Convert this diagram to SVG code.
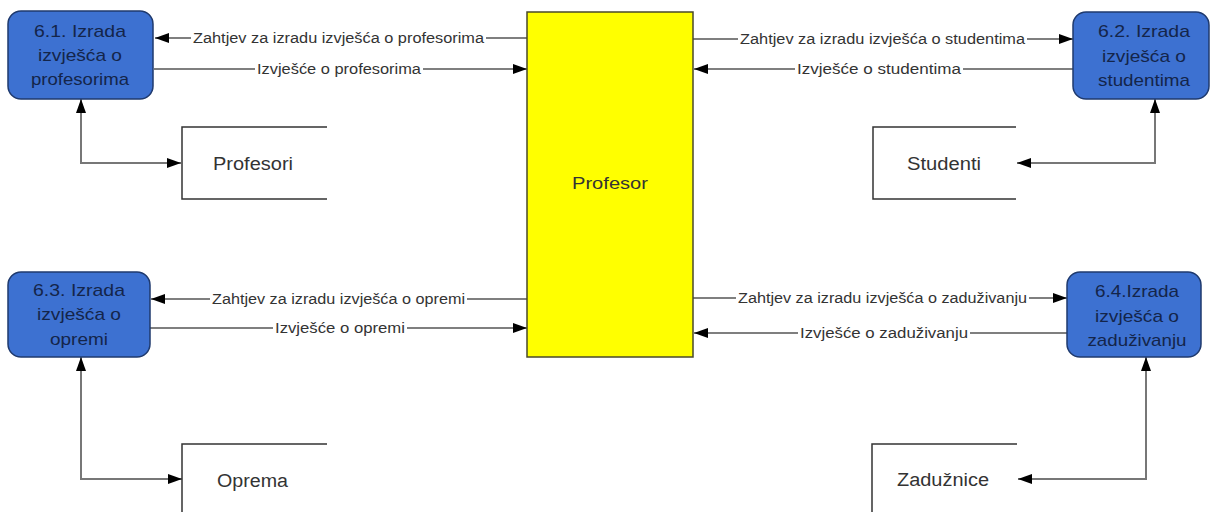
<svg xmlns="http://www.w3.org/2000/svg" width="1211" height="512" viewBox="0 0 1211 512">
<style>
.proc{fill:#3D71D1;stroke:#1F3A6E;stroke-width:1.5}
.ptxt{font-family:"Liberation Sans",Arial,sans-serif;font-size:17px;fill:#14254A;text-anchor:middle}
.ent{fill:#FFFF00;stroke:#4a4a2a;stroke-width:1.5}
.etxt{font-family:"Liberation Sans",Arial,sans-serif;font-size:17px;fill:#333}
.store{fill:none;stroke:#333;stroke-width:1.5}
.stxt{font-family:"Liberation Sans",Arial,sans-serif;font-size:18px;fill:#333}
.flow{fill:none;stroke:#555;stroke-width:1.4;marker-end:url(#ah)}
.flow2{fill:none;stroke:#777;stroke-width:2;marker-end:url(#ah);marker-start:url(#ahs)}
.lbg{fill:#fff}
.ltxt{font-family:"Liberation Sans",Arial,sans-serif;font-size:14px;fill:#333}
</style>
<defs>
<marker id="ah" viewBox="0 0 14 10" refX="14" refY="5" markerWidth="14" markerHeight="10" markerUnits="userSpaceOnUse" orient="auto"><path d="M0,0 L14,5 L0,10 z" fill="#000"/></marker>
<marker id="ahs" viewBox="0 0 14 10" refX="0" refY="5" markerWidth="14" markerHeight="10" markerUnits="userSpaceOnUse" orient="auto"><path d="M14,0 L0,5 L14,10 z" fill="#000"/></marker>
</defs>
<rect width="1211" height="512" fill="#fff"/>

<g id="connectors">
<path class="flow" d="M527,38 H155"/>
<rect class="lbg" x="191" y="30" width="295" height="16"/>
<text class="ltxt" x="193" y="43" textLength="291" lengthAdjust="spacingAndGlyphs">Zahtjev za izradu izvješća o profesorima</text>
<path class="flow" d="M154,69 H527"/>
<rect class="lbg" x="255" y="61" width="168" height="16"/>
<text class="ltxt" x="257" y="74" textLength="164" lengthAdjust="spacingAndGlyphs">Izvješće o profesorima</text>

<path class="flow" d="M693,39 H1073"/>
<rect class="lbg" x="738" y="31" width="289" height="16"/>
<text class="ltxt" x="740" y="44" textLength="285" lengthAdjust="spacingAndGlyphs">Zahtjev za izradu izvješća o studentima</text>
<path class="flow" d="M1073,69 H694"/>
<rect class="lbg" x="795" y="61" width="168" height="16"/>
<text class="ltxt" x="797" y="74" textLength="164" lengthAdjust="spacingAndGlyphs">Izvješće o studentima</text>

<path class="flow" d="M527,299 H151"/>
<rect class="lbg" x="210" y="291" width="257" height="16"/>
<text class="ltxt" x="212" y="304" textLength="253" lengthAdjust="spacingAndGlyphs">Zahtjev za izradu izvješća o opremi</text>
<path class="flow" d="M150,328 H527"/>
<rect class="lbg" x="273" y="320" width="134" height="16"/>
<text class="ltxt" x="275" y="333" textLength="130" lengthAdjust="spacingAndGlyphs">Izvješće o opremi</text>

<path class="flow" d="M693,298 H1067"/>
<rect class="lbg" x="736" y="290" width="293" height="16"/>
<text class="ltxt" x="738" y="303" textLength="289" lengthAdjust="spacingAndGlyphs">Zahtjev za izradu izvješća o zaduživanju</text>
<path class="flow" d="M1067,333 H694"/>
<rect class="lbg" x="798" y="325" width="172" height="16"/>
<text class="ltxt" x="800" y="338" textLength="168" lengthAdjust="spacingAndGlyphs">Izvješće o zaduživanju</text>

<path class="flow2" d="M81,99 V163 H181"/>
<path class="flow2" d="M1155,99 V163 H1017"/>
<path class="flow2" d="M81,357 V479 H182"/>
<path class="flow2" d="M1146,357 V479 H1018"/>
</g>

<g id="profesor">
<rect class="ent" x="527" y="12" width="166" height="345"/>
<text class="etxt" x="572" y="189" textLength="76" lengthAdjust="spacingAndGlyphs">Profesor</text>
</g>

<g id="p61">
<rect class="proc" x="8" y="11" width="145" height="88" rx="13"/>
<text class="ptxt" x="80" y="37" textLength="92" lengthAdjust="spacingAndGlyphs">6.1. Izrada</text>
<text class="ptxt" x="80" y="61" textLength="84" lengthAdjust="spacingAndGlyphs">izvješća o</text>
<text class="ptxt" x="80" y="85" textLength="98" lengthAdjust="spacingAndGlyphs">profesorima</text>
</g>

<g id="p62">
<rect class="proc" x="1073" y="12" width="136" height="87" rx="13"/>
<text class="ptxt" x="1144" y="37" textLength="92" lengthAdjust="spacingAndGlyphs">6.2. Izrada</text>
<text class="ptxt" x="1144" y="62" textLength="84" lengthAdjust="spacingAndGlyphs">izvješća o</text>
<text class="ptxt" x="1144" y="86" textLength="92" lengthAdjust="spacingAndGlyphs">studentima</text>
</g>

<g id="p63">
<rect class="proc" x="8" y="272" width="142" height="85" rx="13"/>
<text class="ptxt" x="79" y="296" textLength="92" lengthAdjust="spacingAndGlyphs">6.3. Izrada</text>
<text class="ptxt" x="79" y="320" textLength="84" lengthAdjust="spacingAndGlyphs">izvješća o</text>
<text class="ptxt" x="79" y="345" textLength="58" lengthAdjust="spacingAndGlyphs">opremi</text>
</g>

<g id="p64">
<rect class="proc" x="1067" y="272" width="134" height="85" rx="13"/>
<text class="ptxt" x="1137" y="297" textLength="84" lengthAdjust="spacingAndGlyphs">6.4.Izrada</text>
<text class="ptxt" x="1137" y="322" textLength="84" lengthAdjust="spacingAndGlyphs">izvješća o</text>
<text class="ptxt" x="1137" y="346" textLength="99" lengthAdjust="spacingAndGlyphs">zaduživanju</text>
</g>

<g id="profesori">
<path class="store" d="M327,127 H182 V199 H327"/>
<text class="stxt" x="213" y="170" textLength="80" lengthAdjust="spacingAndGlyphs">Profesori</text>
</g>

<g id="studenti">
<path class="store" d="M1016,127 H873 V199 H1016"/>
<text class="stxt" x="907" y="170" textLength="74" lengthAdjust="spacingAndGlyphs">Studenti</text>
</g>

<g id="oprema">
<path class="store" d="M327,444 H182 V520"/>
<text class="stxt" x="217" y="487" textLength="71" lengthAdjust="spacingAndGlyphs">Oprema</text>
</g>

<g id="zaduznice">
<path class="store" d="M1017,444 H872 V520"/>
<text class="stxt" x="897" y="486" textLength="92" lengthAdjust="spacingAndGlyphs">Zadužnice</text>
</g>
</svg>
